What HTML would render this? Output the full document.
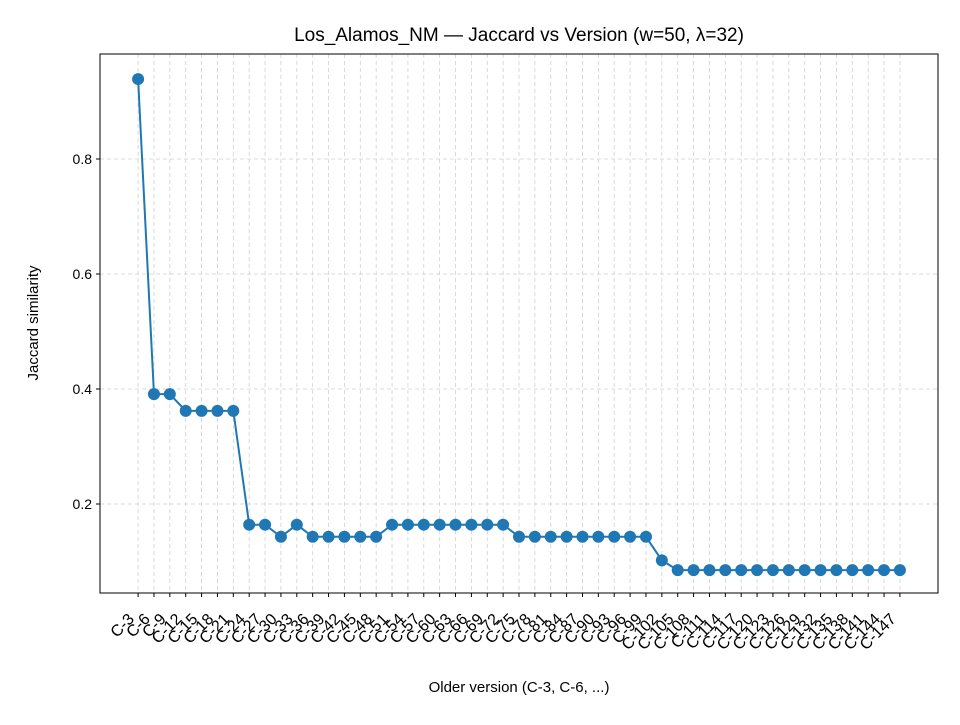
<!DOCTYPE html>
<html><head><meta charset="utf-8"><style>
body{margin:0;background:#fff;font-family:"Liberation Sans","DejaVu Sans",sans-serif}
</style></head><body>
<svg id="chart" width="960" height="720" xmlns="http://www.w3.org/2000/svg"></svg>
<script>
const categories=[];for(let i=3;i<=147;i+=3)categories.push('C-'+i);
const jaccard=[0.939,0.391,0.391,0.362,0.362,0.362,0.362,0.164,0.164,0.143,0.164,0.143,0.143,0.143,0.143,0.143,
0.164,0.164,0.164,0.164,0.164,0.164,0.164,0.164,0.143,0.143,0.143,0.143,0.143,0.143,0.143,0.143,0.143,0.102,
0.085,0.085,0.085,0.085,0.085,0.085,0.085,0.085,0.085,0.085,0.085,0.085,0.085,0.085,0.085];
const yTicks=[0.2,0.4,0.6,0.8];
const L=100,R=938,T=54,B=593;
const n=categories.length;
const xMin=-2.4,xMax=n-1+2.4,yMin=0.0452,yMax=0.9826;
const X=i=>L+(i-xMin)/(xMax-xMin)*(R-L);
const Y=v=>B-(v-yMin)/(yMax-yMin)*(B-T);
const svg=document.getElementById('chart');
const NS='http://www.w3.org/2000/svg';
function mk(tag,attrs,parent){const e=document.createElementNS(NS,tag);for(const k in attrs)e.setAttribute(k,attrs[k]);(parent||svg).appendChild(e);return e;}
const grid=mk('g',{});


categories.forEach((c,i)=>{const l=mk('line',{x1:X(i),x2:X(i),y1:T,y2:B,stroke:'#d0d0d0','stroke-dasharray':'4,3','stroke-width':0.8},grid);

});
yTicks.forEach(v=>{const l=mk('line',{x1:L,x2:R,y1:Y(v),y2:Y(v),stroke:'#d0d0d0','stroke-dasharray':'4,3','stroke-width':0.8},grid);

});
const ax=mk('rect',{x:L,y:T,width:R-L,height:B-T,fill:'none',stroke:'#000','stroke-width':1});


yTicks.forEach(v=>{mk('line',{x1:L-4,x2:L,y1:Y(v),y2:Y(v),stroke:'#000'});
const t=mk('text',{x:L-8,y:Y(v)+5,'text-anchor':'end','font-size':14});t.textContent=v.toFixed(1);

});
categories.forEach((c,i)=>{mk('line',{x1:X(i),x2:X(i),y1:B,y2:B+4,stroke:'#000'});
const ax_=X(i)-3,ay=B+27;
const t=mk('text',{x:ax_,y:ay,'text-anchor':'end','font-size':16,transform:`rotate(-45 ${ax_} ${ay})`});t.textContent=c;

});
const pts=jaccard.map((v,i)=>X(i)+','+Y(v)).join(' ');
const line=mk('polyline',{points:pts,fill:'none',stroke:'#1f77b4','stroke-width':2});


jaccard.forEach((v,i)=>{const c=mk('circle',{cx:X(i),cy:Y(v),r:6,fill:'#1f77b4'});

});
let t=mk('text',{x:519,y:41,'text-anchor':'middle','font-size':19});t.textContent='Los_Alamos_NM — Jaccard vs Version (w=50, λ=32)';


t=mk('text',{x:519,y:692,'text-anchor':'middle','font-size':15});t.textContent='Older version (C-3, C-6, ...)';


t=mk('text',{x:38,y:323,'text-anchor':'middle','font-size':15,transform:'rotate(-90 38 323)'});t.textContent='Jaccard similarity';


</script>
</body></html>
